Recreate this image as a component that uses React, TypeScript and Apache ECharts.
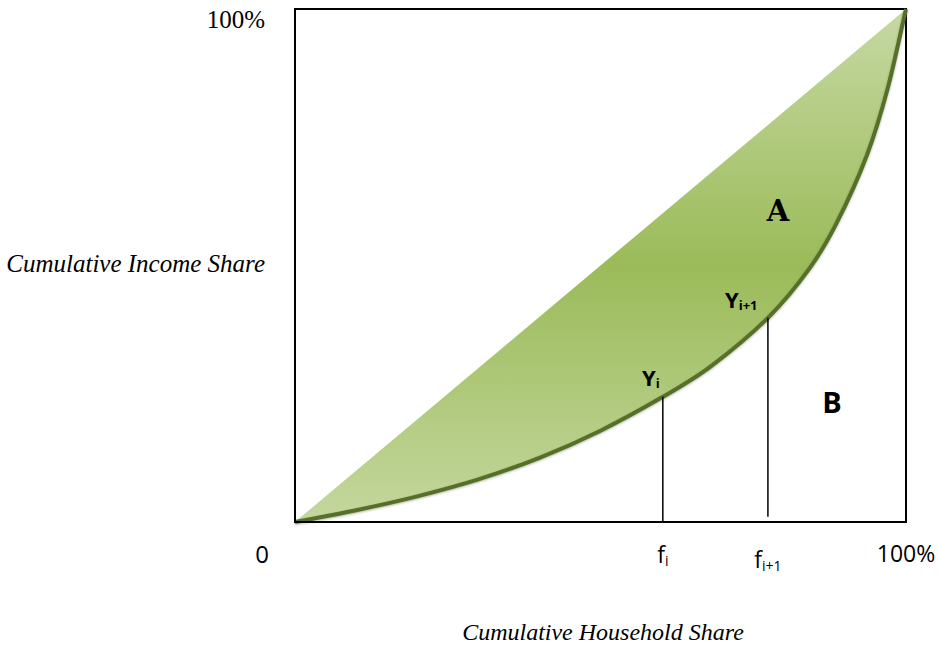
import React, { useEffect, useRef } from 'react';
import * as echarts from 'echarts';

// Cumulative household share (%) and cumulative income share (%) along the Lorenz curve
const householdShare = [0, 10, 20, 30, 40, 50, 60.2, 68, 77.4, 84.3, 88.7, 93.6, 97, 100];
const incomeShare = [0, 2.3, 5.0, 8.3, 12.5, 17.8, 24.4, 30.3, 39.8, 49.6, 58.4, 71.5, 84.5, 100];
// Line of perfect equality (end points)
const equalityX = [0, 100];
const equalityY = [0, 100];

// indices of f_i and f_{i+1} in the arrays above
const fiIndex = 6;
const fi1Index = 8;

const xTickValues = [0, 60.2, 77.4, 100];
const xTickMain = ['0', 'f', 'f', '100%'];
const xTickSub = ['', 'i', 'i+1', ''];
const yTickValues = [100];
const yTickLabels = ['100%'];

const xTitle = 'Cumulative Household Share';
const yTitle = 'Cumulative Income Share';

const SANS = '"Open Sans", "Noto Sans", sans-serif';
const SERIF = '"Liberation Serif", serif';
const SLAB = '"DejaVu Serif", serif';

// tangents for a smooth (Hermite) curve through the read points
function tangents(xs: number[], ys: number[]) {
  const n = xs.length;
  const sec: number[] = [];
  for (let i = 0; i < n - 1; i++) sec.push((ys[i + 1] - ys[i]) / (xs[i + 1] - xs[i]));
  const m: number[] = [];
  for (let i = 0; i < n; i++) {
    if (i === 0) m.push(sec[0]);
    else if (i === n - 1) m.push(sec[n - 2]);
    else m.push((ys[i + 1] - ys[i - 1]) / (xs[i + 1] - xs[i - 1]));
  }
  return m;
}

export default function App() {
  const ref = useRef<HTMLDivElement>(null);
  useEffect(() => {
    if (!ref.current) return;
    const chart = echarts.init(ref.current, undefined, { renderer: 'svg' });

    const m = tangents(householdShare, incomeShare);

    const renderLorenz = (_params: any, api: any) => {
      const P = (x: number, y: number) => api.coord([x, y]);
      const n = householdShare.length;
      const pts = householdShare.map((x, i) => P(x, incomeShare[i]));
      const segs: { c1: number[]; c2: number[] }[] = [];
      for (let i = 0; i < n - 1; i++) {
        const h = householdShare[i + 1] - householdShare[i];
        segs.push({
          c1: P(householdShare[i] + h / 3, incomeShare[i] + (m[i] * h) / 3),
          c2: P(householdShare[i + 1] - h / 3, incomeShare[i + 1] - (m[i + 1] * h) / 3),
        });
      }
      const f = (p: number[]) => `${p[0].toFixed(2)} ${p[1].toFixed(2)}`;
      let curvePath = `M ${f(pts[0])}`;
      for (let i = 0; i < n - 1; i++) {
        curvePath += ` C ${f(segs[i].c1)} ${f(segs[i].c2)} ${f(pts[i + 1])}`;
      }
      const d0 = P(equalityX[0], equalityY[0]);
      const d1 = P(equalityX[1], equalityY[1]);
      let areaPath = `M ${f(d0)} L ${f(d1)} L ${f(pts[n - 1])}`;
      for (let i = n - 2; i >= 0; i--) {
        areaPath += ` C ${f(segs[i].c2)} ${f(segs[i].c1)} ${f(pts[i])}`;
      }
      areaPath += ' Z';
      return {
        type: 'group',
        children: [
          {
            type: 'path',
            shape: { pathData: areaPath },
            style: {
              fill: new echarts.graphic.LinearGradient(0, 0, 0, 1, [
                { offset: 0, color: '#c6d9a3' },
                { offset: 0.5, color: '#9bbb59' },
                { offset: 1, color: '#c4d79e' },
              ]),
              stroke: 'none',
            },
          },
          {
            type: 'path',
            shape: { pathData: curvePath },
            style: {
              fill: 'none',
              stroke: '#56702b',
              lineWidth: 4,
              shadowColor: 'rgba(40,55,15,0.35)',
              shadowBlur: 2,
              shadowOffsetY: 1,
            },
          },
        ],
      };
    };

    const xRichNames = ['z', 'f', 'f2', 'p'];
    const xSubNames = ['', 's', 's2', ''];

    const option: any = {
      animation: false,
      backgroundColor: '#ffffff',
      grid: {
        left: 295,
        right: 32,
        top: 9,
        bottom: 123,
        show: true,
        borderColor: '#000',
        borderWidth: 2,
        backgroundColor: 'transparent',
        containLabel: false,
        outerBoundsMode: 'none',
      },
      xAxis: {
        type: 'value',
        min: 0,
        max: 100,
        z: 10,
        splitLine: { show: false },
        axisLine: { show: true, lineStyle: { color: '#000', width: 2 } },
        axisTick: { show: false },
        axisLabel: {
          customValues: xTickValues,
          margin: 19,
          color: '#000',
          fontFamily: SANS,
          formatter: (v: number) => {
            const i = xTickValues.findIndex((t) => Math.abs(t - v) < 1e-6);
            if (i < 0) return '';
            let s = `{${xRichNames[i]}|${xTickMain[i]}}`;
            if (xTickSub[i]) s += `{${xSubNames[i]}|${xTickSub[i]}}`;
            return s;
          },
          rich: {
            z: { fontSize: 24, fontFamily: SANS, color: '#000', padding: [0, 66, 0, 0] },
            f: { fontSize: 23, fontFamily: SANS, color: '#000' },
            s: { fontSize: 14, fontFamily: SANS, color: '#000', padding: [12, 0, 0, 0] },
            f2: { fontSize: 23, fontFamily: SANS, color: '#000', padding: [5, 0, 0, 0] },
            s2: { fontSize: 14, fontFamily: SANS, color: '#000', padding: [17, 0, 0, 0] },
            p: { fontSize: 23, fontFamily: SANS, color: '#000' },
          },
        },
      },
      yAxis: {
        type: 'value',
        min: 0,
        max: 100,
        z: 10,
        splitLine: { show: false },
        axisLine: { show: true, lineStyle: { color: '#000', width: 2 } },
        axisTick: { show: false },
        axisLabel: {
          customValues: yTickValues,
          margin: 30,
          color: '#000',
          fontFamily: SERIF,
          fontSize: 25,
          lineHeight: 20,
          verticalAlign: 'top',
          formatter: (v: number) => {
            const i = yTickValues.findIndex((t) => Math.abs(t - v) < 1e-6);
            return i < 0 ? '' : yTickLabels[i];
          },
        },
      },
      series: [
        {
          name: 'Lorenz curve',
          type: 'custom',
          coordinateSystem: 'cartesian2d',
          data: [[householdShare[0], incomeShare[0]]],
          encode: { x: 0, y: 1 },
          clip: false,
          z: 3,
          renderItem: renderLorenz,
        },
        {
          name: 'f_i',
          type: 'line',
          data: [
            [householdShare[fiIndex], 0],
            [householdShare[fiIndex], incomeShare[fiIndex]],
          ],
          showSymbol: false,
          symbol: 'none',
          z: 5,
          lineStyle: { color: '#000', width: 1.5 },
        },
        {
          name: 'f_i+1',
          type: 'line',
          data: [
            [householdShare[fi1Index], 1],
            [householdShare[fi1Index], incomeShare[fi1Index]],
          ],
          showSymbol: false,
          symbol: 'none',
          z: 5,
          lineStyle: { color: '#000', width: 1.5 },
        },
      ],
      graphic: [
        {
          type: 'text',
          x: 265,
          y: 263,
          style: {
            text: yTitle,
            fontFamily: SERIF,
            fontStyle: 'italic',
            fontSize: 25,
            fill: '#000',
            align: 'right',
            verticalAlign: 'middle',
          },
        },
        {
          type: 'text',
          x: 603,
          y: 632,
          style: {
            text: xTitle,
            fontFamily: SERIF,
            fontStyle: 'italic',
            fontSize: 24,
            fill: '#000',
            align: 'center',
            verticalAlign: 'middle',
          },
        },
        {
          type: 'text',
          x: 778,
          y: 211,
          z: 10,
          style: {
            text: 'A',
            fontFamily: SLAB,
            fontWeight: 'bold',
            fontSize: 29,
            fill: '#000',
            align: 'center',
            verticalAlign: 'middle',
          },
        },
        {
          type: 'text',
          x: 832,
          y: 401,
          z: 10,
          style: {
            text: 'B',
            fontFamily: SANS,
            fontWeight: 'bold',
            fontSize: 29,
            fill: '#000',
            align: 'center',
            verticalAlign: 'middle',
          },
        },
        {
          type: 'text',
          x: 642,
          y: 377,
          z: 10,
          style: {
            text: '{Y|Y}{s|i}',
            align: 'left',
            verticalAlign: 'middle',
            rich: {
              Y: { fontSize: 22, fontWeight: 'bold', fontFamily: SANS, fill: '#000' },
              s: { fontSize: 13, fontWeight: 'bold', fontFamily: SANS, fill: '#000', padding: [12, 0, 0, 0] },
            },
          },
        },
        {
          type: 'text',
          x: 725,
          y: 299,
          z: 10,
          style: {
            text: '{Y|Y}{s|i+1}',
            align: 'left',
            verticalAlign: 'middle',
            rich: {
              Y: { fontSize: 22, fontWeight: 'bold', fontFamily: SANS, fill: '#000' },
              s: { fontSize: 13, fontWeight: 'bold', fontFamily: SANS, fill: '#000', padding: [12, 0, 0, 0] },
            },
          },
        },
      ],
    };

    chart.setOption(option);
    return () => chart.dispose();
  }, []);

  return (
    <div
      ref={ref}
      style={{ position: 'fixed', left: 0, top: 0, width: 938, height: 645, background: '#fff' }}
    />
  );
}
